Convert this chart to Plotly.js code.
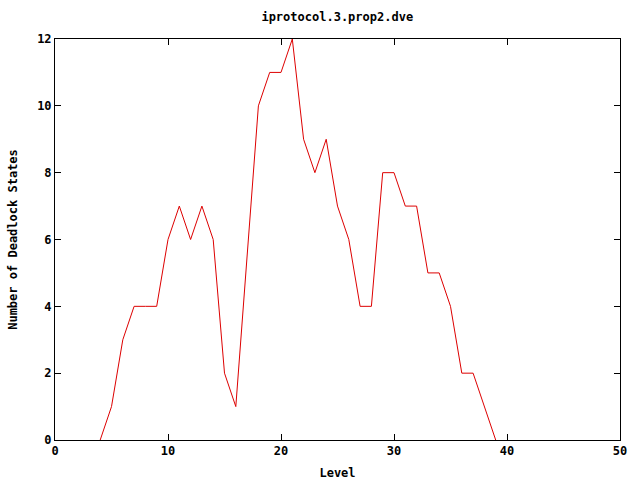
<!DOCTYPE html>
<html>
<head>
<meta charset="utf-8">
<script src="https://cdn.plot.ly/plotly-3.0.1.min.js"></script>
<style>html,body{margin:0;padding:0;background:#fff;}#chart{width:640px;height:480px;}</style>
</head>
<body>
<div id="chart"></div>
<script>
const levels = [4,5,6,7,8,9,10,11,12,13,14,15,16,17,18,19,20,21,22,23,24,25,26,27,28,29,30,31,32,33,34,35,36,37,38,39];
const deadlockStates = [0,1,3,4,4,4,6,7,6,7,6,2,1,5.5,10,11,11,12,9,8,9,7,6,4,4,8,8,7,7,5,5,4,2,2,1,0];
const xTicks = [0,10,20,30,40,50];
const yTicks = [0,2,4,6,8,10,12];

const fontFamily = '"DejaVu Sans Mono", "Liberation Mono", monospace';
const axisCommon = {
  showline: true, linecolor: '#000', linewidth: 1, mirror: 'ticks',
  ticks: 'inside', ticklen: 6, tickcolor: '#000', tickwidth: 1,
  showgrid: false, zeroline: false,
  tickfont: {family: fontFamily, size: 12, color: '#000', weight: 'bold'}
};

Plotly.newPlot('chart', [{
  x: levels, y: deadlockStates, type: 'scatter', mode: 'lines',
  line: {color: '#dd0000', width: 1}, showlegend: false, hoverinfo: 'none'
}], {
  width: 640, height: 480,
  margin: {l: 55, r: 20, t: 39, b: 40},
  paper_bgcolor: '#fff', plot_bgcolor: '#fff',
  title: {text: 'iprotocol.3.prop2.dve', font: {family: fontFamily, size: 12, color: '#000', weight: 'bold'}, x: 0.527, xanchor: 'center', y: 0.964, yanchor: 'middle'},
  xaxis: Object.assign({}, axisCommon, {range: [0, 50], tickvals: xTicks, ticktext: xTicks.map(String),
    title: {text: 'Level', font: {family: fontFamily, size: 12, color: '#000', weight: 'bold'}, standoff: 12}}),
  yaxis: Object.assign({}, axisCommon, {range: [0, 12], tickvals: yTicks, ticktext: yTicks.map(String),
    title: {text: 'Number of Deadlock States', font: {family: fontFamily, size: 12, color: '#000', weight: 'bold'}, standoff: 16}})
}, {staticPlot: true});
</script>
</body>
</html>
